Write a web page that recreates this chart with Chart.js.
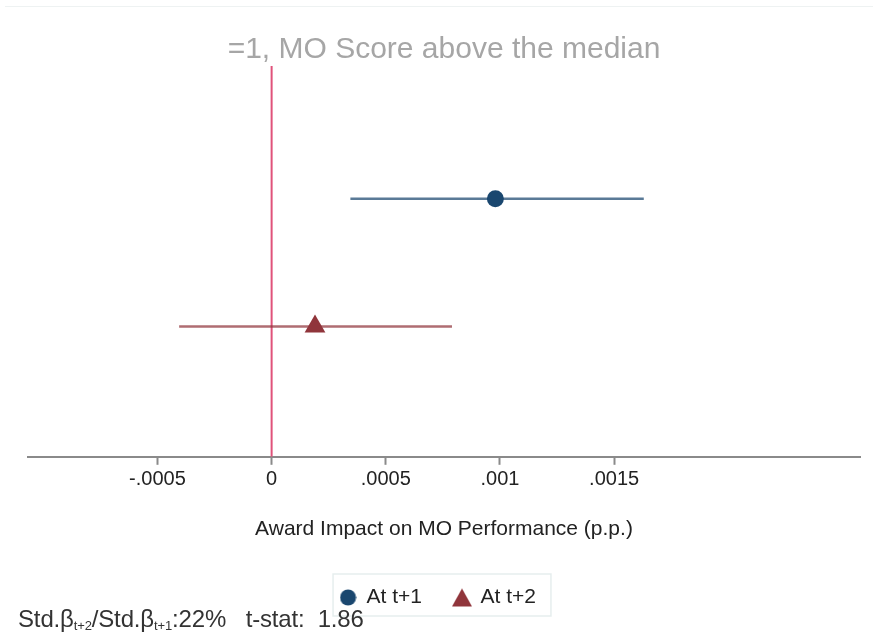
<!DOCTYPE html>
<html>
<head>
<meta charset="utf-8">
<title>Award Impact on MO Performance</title>
<script src="https://cdn.jsdelivr.net/npm/chart.js@4.4.1/dist/chart.umd.min.js"></script>
<style>
  html, body { margin: 0; padding: 0; background: #ffffff; }
  #wrap { position: relative; width: 873px; height: 636px; overflow: hidden; }
  #frame { position: absolute; left: 5px; top: 6px; right: 0; height: 0; border-top: 1px solid #eef2f2; }
  canvas { position: absolute; left: 0; top: 0; }
  #note {
    position: absolute; left: 18px; top: 605px;
    font-family: "Liberation Sans", Arial, sans-serif; font-size: 24px; color: #333;
    white-space: pre; letter-spacing: -0.15px;
  }
  #note sub { font-size: 13px; vertical-align: -3px; }
</style>
</head>
<body>
<div id="wrap">
  <div id="frame"></div>
  <canvas id="c" width="873" height="636"></canvas>
  <div id="note">Std.β<sub>t+2</sub>/Std.β<sub>t+1</sub>:22%   t-stat:  1.86</div>
</div>
<script>
// Coefficient estimates with their confidence intervals
const labels    = ['At t+1', 'At t+2'];
const estimates = [0.00098, 0.00019];
const ciLow     = [0.000345, -0.000405];
const ciHigh    = [0.00163, 0.00079];
const rows      = [2, 1];

// X-axis ticks and their printed labels
const tickValues = [-0.0005, 0, 0.0005, 0.001, 0.0015];
const tickLabels = ['-.0005', '0', '.0005', '.001', '.0015'];

const xMin = -0.001067, xMax = 0.002577;
const yMin = -0.02, yMax = 3.04;

const colors = ['#1a476f', '#90353b'];
const ciColors = ['rgba(26,71,111,0.72)', 'rgba(144,53,59,0.72)'];
const styles = ['circle', 'triangle'];
const radii = [8.5, 12];

const FONT = '"Liberation Sans", Arial, sans-serif';

// Small marker images for the legend entries
function legendMarker(style, color) {
  const cv = document.createElement('canvas');
  const ctx = cv.getContext('2d');
  if (style === 'circle') {
    cv.width = 17; cv.height = 17;
    ctx.fillStyle = color;
    ctx.beginPath(); ctx.arc(8.5, 8.5, 8, 0, Math.PI * 2); ctx.fill();
  } else {
    cv.width = 22; cv.height = 20;
    ctx.fillStyle = color;
    ctx.beginPath(); ctx.moveTo(11, 1); ctx.lineTo(21, 19); ctx.lineTo(1, 19); ctx.closePath(); ctx.fill();
  }
  return cv;
}
const markers = styles.map((s, i) => legendMarker(s, colors[i]));

const datasets = [
  {
    type: 'line', label: 'zero',
    data: [{ x: 0, y: yMin }, { x: 0, y: yMax }],
    borderColor: '#e0527a', borderWidth: 2, pointRadius: 0, order: 3
  }
];
labels.forEach((lab, i) => {
  datasets.push({
    type: 'line', label: 'ci' + i,
    data: [{ x: ciLow[i], y: rows[i] }, { x: ciHigh[i], y: rows[i] }],
    borderColor: ciColors[i], borderWidth: 2.5, pointRadius: 0, order: 2
  });
});
labels.forEach((lab, i) => {
  datasets.push({
    type: 'scatter', label: lab,
    data: [{ x: estimates[i], y: rows[i] }],
    backgroundColor: colors[i], borderColor: colors[i], borderWidth: 0,
    pointStyle: styles[i], pointRadius: radii[i], order: 1
  });
});

const LEGEND_SHIFT = -6;

// Nudges the legend row and frames it with a thin border
const legendBox = {
  id: 'legendBox',
  afterUpdate(chart) { chart.$legendShifted = false; },
  beforeDraw(chart) {
    const lg = chart.legend;
    if (!lg || chart.$legendShifted) return;
    lg.left += LEGEND_SHIFT; lg.right += LEGEND_SHIFT;
    (lg.legendHitBoxes || []).forEach(b => { b.left += LEGEND_SHIFT; });
    chart.$legendShifted = true;
  },
  afterDraw(chart) {
    const lg = chart.legend;
    if (!lg || !lg.legendHitBoxes || !lg.legendHitBoxes.length) return;
    const hb = lg.legendHitBoxes;
    const l = Math.min(...hb.map(b => b.left)) - 7;
    const r = Math.max(...hb.map(b => b.left + b.width)) + 15;
    const t = Math.min(...hb.map(b => b.top)) - 13;
    const btm = Math.max(...hb.map(b => b.top + b.height)) + 8;
    const ctx = chart.ctx;
    ctx.save();
    ctx.strokeStyle = '#e6eeee';
    ctx.lineWidth = 1.5;
    ctx.strokeRect(l, t, r - l, btm - t);
    ctx.restore();
  }
};

new Chart(document.getElementById('c'), {
  data: { datasets },
  options: {
    responsive: false,
    animation: false,
    layout: { padding: { left: 28, right: 13, top: 19, bottom: 18 } },
    plugins: {
      title: {
        display: true,
        text: '=1, MO Score above the median',
        color: '#a6a6a6',
        font: { family: FONT, size: 30, weight: 'normal' },
        padding: { top: 13, bottom: -2 }
      },
      legend: {
        display: true,
        position: 'bottom',
        labels: {
          generateLabels: chart => labels.map((lab, i) => ({
            text: lab,
            fillStyle: colors[i],
            strokeStyle: colors[i],
            lineWidth: 0,
            pointStyle: markers[i],
            hidden: false,
            datasetIndex: 3 + i,
            fontColor: '#222'
          })),
          usePointStyle: true,
          boxHeight: 16,
          pointStyleWidth: 16,
          padding: 32,
          color: '#222',
          font: { family: FONT, size: 21 }
        }
      },
      tooltip: { enabled: false }
    },
    scales: {
      x: {
        type: 'linear', min: xMin, max: xMax,
        afterBuildTicks: axis => { axis.ticks = tickValues.map(v => ({ value: v })); },
        ticks: {
          color: '#222',
          font: { family: FONT, size: 20 },
          padding: 3,
          maxRotation: 0,
          callback: (v) => {
            const k = tickValues.findIndex(t => Math.abs(t - v) < 1e-12);
            return k >= 0 ? tickLabels[k] : '';
          }
        },
        grid: { drawOnChartArea: false, drawTicks: true, tickLength: 8, color: '#8a8a8a', tickWidth: 2 },
        border: { display: true, color: '#8a8a8a', width: 2 },
        title: {
          display: true,
          text: 'Award Impact on MO Performance (p.p.)',
          color: '#222',
          font: { family: FONT, size: 21 },
          padding: { top: 22, bottom: 13 }
        }
      },
      y: { type: 'linear', min: yMin, max: yMax, display: false }
    }
  },
  plugins: [legendBox]
});
</script>
</body>
</html>
